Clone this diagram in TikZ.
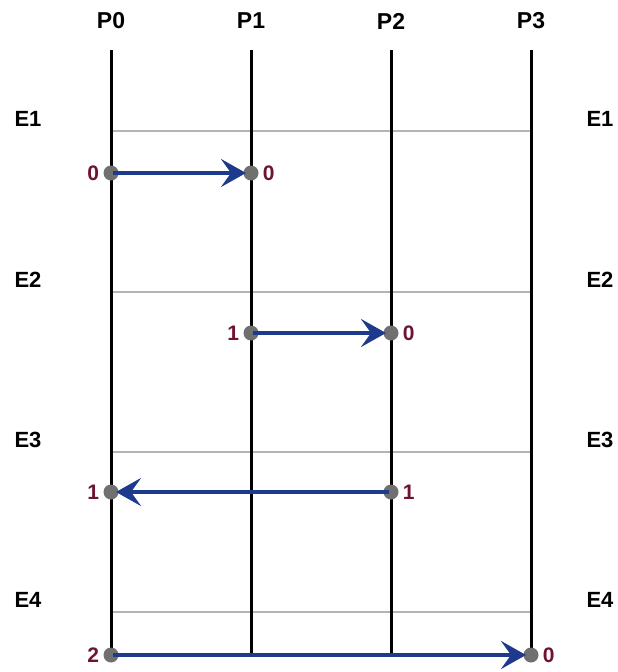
\documentclass[tikz,border=0pt]{standalone}
\usepackage{fontspec}
\setmainfont{Liberation Sans}
\usetikzlibrary{arrows.meta,positioning}
\definecolor{msgblue}{HTML}{1E3A8C}
\definecolor{lblred}{HTML}{6E1236}
\definecolor{dotgray}{HTML}{707070}
\definecolor{gridgray}{HTML}{B4B4B4}
\tikzset{
  proclabel/.style={font=\fontsize{23}{27}\selectfont\bfseries, text=black},
  eplabel/.style={font=\fontsize{22}{26}\selectfont\bfseries, text=black},
  procline/.style={line width=3pt, black},
  epline/.style={line width=2pt, gridgray},
  evdot/.style={circle, fill=dotgray, inner sep=0pt, minimum size=15pt},
  clk/.style={font=\fontsize{21}{25}\selectfont\bfseries, text=lblred, inner sep=1pt},
  msg/.style={line width=3.5pt, msgblue, -{Stealth[length=25pt, width=28pt, inset=10pt]}, shorten >=5pt, shorten <=2pt}
}
\begin{document}
\begin{tikzpicture}[x=1pt, y=-1pt]
\useasboundingbox (0,0) rectangle (618,672);
% process labels
\foreach \i/\x in {0/111,1/251,2/391,3/531}{
  \node[proclabel] (p\i) at (\x,21) {P\i};
  \coordinate (top\i) at (\x,50);
  \coordinate (bot\i) at (\x,657);
}
% epoch lines and labels
\foreach \j/\y in {1/131,2/292,3/452,4/612}{
  \coordinate (el\j) at (111,\y);
  \coordinate (er\j) at (531,\y);
  \draw[epline] (el\j) -- (er\j);
  \node[eplabel] (eL\j) at (28,\y-12) {E\j};
  \node[eplabel] (eR\j) at (600,\y-12) {E\j};
}
% process lines
\foreach \i in {0,1,2,3}{
  \draw[procline] (top\i) -- (bot\i);
}
% events
\node[evdot] (a0) at (111,173) {};
\node[evdot] (a1) at (251,173) {};
\node[evdot] (b1) at (251,333) {};
\node[evdot] (b2) at (391,333) {};
\node[evdot] (c2) at (391,492) {};
\node[evdot] (c0) at (111,492) {};
\node[evdot] (d0) at (111,655) {};
\node[evdot] (d3) at (531,655) {};
% clock labels
\node[clk, left=3pt of a0] (la0) {0};
\node[clk, right=3pt of a1] (la1) {0};
\node[clk, left=3pt of b1] (lb1) {1};
\node[clk, right=3pt of b2] (lb2) {0};
\node[clk, right=3pt of c2] (lc2) {1};
\node[clk, left=3pt of c0] (lc0) {1};
\node[clk, left=3pt of d0] (ld0) {2};
\node[clk, right=3pt of d3] (ld3) {0};
% messages
\draw[msg] (a0.center) -- (a1.center);
\draw[msg] (b1.center) -- (b2.center);
\draw[msg] (c2.center) -- (c0.center);
\draw[msg] (d0.center) -- (d3.center);
\end{tikzpicture}
\end{document}
